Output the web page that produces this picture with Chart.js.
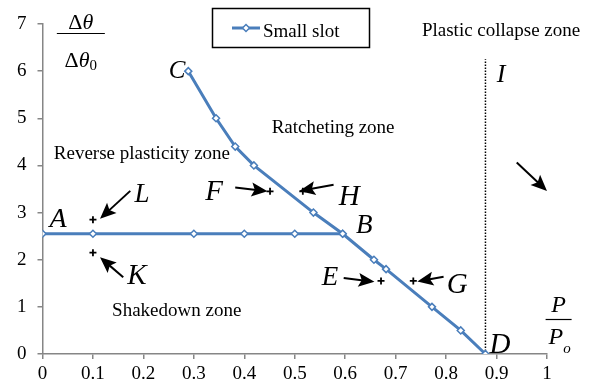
<!DOCTYPE html>
<html>
<head>
<meta charset="utf-8">
<script src="https://cdn.jsdelivr.net/npm/chart.js@4.4.1/dist/chart.umd.min.js"></script>
<style>
  html, body { margin: 0; background: #fff; }
  #wrap { width: 603px; height: 385px; }
</style>
</head>
<body>
<div id="wrap"><canvas id="chart" width="603" height="385"></canvas></div>
<script>
// Shakedown boundary (A -> B) and ratcheting / collapse boundary (C -> D)
const flatX = [0, 0.1, 0.3, 0.4, 0.5, 0.595];
const flatY = [2.55, 2.55, 2.55, 2.55, 2.55, 2.55];
const slotX = [0.289, 0.344, 0.382, 0.419, 0.537, 0.595, 0.657, 0.681, 0.772, 0.829, 0.878];
const slotY = [6.0, 5.0, 4.4, 4.0, 3.0, 2.55, 2.0, 1.8, 1.0, 0.5, 0];

// Limit load line (dotted)
const limitX = [0.878, 0.878];
const limitY = [0, 6.25];

// Load cases K, L, F, H, E, G
const caseX = [0.1, 0.1, 0.451, 0.516, 0.671, 0.735];
const caseY = [2.85, 2.15, 3.45, 3.45, 1.55, 1.55];

// Point letters
const letters = ["A", "B", "C", "D", "E", "F", "G", "H", "I", "K", "L"];
const letterX = [0.031, 0.638, 0.267, 0.907, 0.570, 0.340, 0.822, 0.608, 0.909, 0.187, 0.197];
const letterY = [2.69, 2.57, 5.85, 0.03, 1.47, 3.27, 1.29, 3.16, 5.77, 1.49, 3.22];

// Zone names
const zones = ["Plastic collapse zone", "Ratcheting zone", "Reverse plasticity zone", "Shakedown zone"];
const zoneX = [0.909, 0.576, 0.197, 0.266];
const zoneY = [6.74, 4.68, 4.13, 0.80];

// Arrows (tail -> tip)
const arrowFromX = [0.174, 0.160, 0.382, 0.577, 0.597, 0.795, 0.940];
const arrowFromY = [3.46, 1.63, 3.53, 3.59, 1.61, 1.64, 4.06];
const arrowToX = [0.114, 0.114, 0.446, 0.509, 0.658, 0.743, 1.000];
const arrowToY = [2.87, 2.05, 3.45, 3.46, 1.53, 1.54, 3.46];

const blue = "#4a7ebb";
const serif = '"Liberation Serif", "Times New Roman", serif';
const letterSize = { A: 28, B: 27, C: 25, D: 29, E: 27, F: 29, G: 29, H: 29, I: 26, K: 29, L: 27 };

const toPts = (xs, ys) => xs.map((x, i) => ({ x: x, y: ys[i] }));

function drawArrow(ctx, x1, y1, x2, y2) {
  const a = Math.atan2(y2 - y1, x2 - x1);
  const c = Math.cos(a), s = Math.sin(a);
  const len = 16, hw = 7;
  ctx.beginPath();
  ctx.moveTo(x1, y1);
  ctx.lineTo(x2 - len * 0.7 * c, y2 - len * 0.7 * s);
  ctx.stroke();
  ctx.beginPath();
  ctx.moveTo(x2, y2);
  ctx.lineTo(x2 - len * c + hw * s, y2 - len * s - hw * c);
  ctx.lineTo(x2 - len * 0.8 * c, y2 - len * 0.8 * s);
  ctx.lineTo(x2 - len * c - hw * s, y2 - len * s + hw * c);
  ctx.closePath();
  ctx.fill();
}

// Writes a run of [text, font, dy] pieces centred on cx
function drawRun(ctx, parts, cx, baseline) {
  let w = 0;
  parts.forEach(p => { ctx.font = p[1]; w += ctx.measureText(p[0]).width; });
  let x = cx - w / 2;
  parts.forEach(p => {
    ctx.font = p[1];
    ctx.fillText(p[0], x, baseline + (p[2] || 0));
    x += ctx.measureText(p[0]).width;
  });
}

const overlay = {
  id: "overlay",
  afterDatasetsDraw(chart) {
    const ctx = chart.ctx;
    const sx = chart.scales.x, sy = chart.scales.y;
    ctx.save();
    ctx.fillStyle = "#000";
    ctx.strokeStyle = "#000";
    ctx.textBaseline = "alphabetic";
    ctx.textAlign = "left";

    // zone names
    zones.forEach((t, i) => {
      ctx.font = "19px " + serif;
      const w = ctx.measureText(t).width;
      ctx.fillText(t, sx.getPixelForValue(zoneX[i]) - w / 2, sy.getPixelForValue(zoneY[i]));
    });

    // point letters
    letters.forEach((t, i) => {
      ctx.font = "italic " + letterSize[t] + "px " + serif;
      const w = ctx.measureText(t).width;
      ctx.fillText(t, sx.getPixelForValue(letterX[i]) - w / 2, sy.getPixelForValue(letterY[i]));
    });

    // arrows
    ctx.lineWidth = 2;
    arrowFromX.forEach((x, i) => {
      drawArrow(ctx,
        sx.getPixelForValue(x), sy.getPixelForValue(arrowFromY[i]),
        sx.getPixelForValue(arrowToX[i]), sy.getPixelForValue(arrowToY[i]));
    });

    // y axis title: Δθ / Δθ0
    const yx = sx.getPixelForValue(0.076), yl = Math.round(sy.getPixelForValue(6.81)) + 0.5;
    const up = "22px " + serif, it = "italic 22px " + serif;
    drawRun(ctx, [["Δ", up], ["θ", it]], yx, yl - 5);
    drawRun(ctx, [["Δ", up], ["θ", it], ["0", "15px " + serif, 3]], yx, yl + 33);
    ctx.lineWidth = 1.2;
    ctx.beginPath();
    ctx.moveTo(yx - 24, yl);
    ctx.lineTo(yx + 24, yl);
    ctx.stroke();

    // x axis title: P / Po
    const xx = sx.getPixelForValue(1.023), xl = Math.round(sy.getPixelForValue(0.75)) + 0.5;
    const pf = "italic 24px " + serif;
    drawRun(ctx, [["P", pf]], xx, xl - 8);
    drawRun(ctx, [["P", pf], ["o", "italic 15px " + serif, 9]], xx + 1, xl + 24);
    ctx.beginPath();
    ctx.moveTo(xx - 13, xl);
    ctx.lineTo(xx + 13, xl);
    ctx.stroke();

    // legend box
    ctx.lineWidth = 1.5;
    ctx.strokeRect(212.5, 8.5, 157, 39);
    ctx.strokeStyle = blue;
    ctx.lineWidth = 3;
    ctx.beginPath();
    ctx.moveTo(232, 28);
    ctx.lineTo(260, 28);
    ctx.stroke();
    ctx.fillStyle = "#fff";
    ctx.lineWidth = 1.5;
    ctx.beginPath();
    ctx.moveTo(246, 24.5);
    ctx.lineTo(249.5, 28);
    ctx.lineTo(246, 31.5);
    ctx.lineTo(242.5, 28);
    ctx.closePath();
    ctx.fill();
    ctx.stroke();
    ctx.fillStyle = "#000";
    ctx.font = "19px " + serif;
    ctx.fillText("Small slot", 263, 37);
    ctx.restore();
  }
};

const lineStyle = {
  showLine: true,
  borderColor: blue,
  borderWidth: 3,
  pointStyle: "rectRot",
  pointRadius: 3.5,
  pointBackgroundColor: "#fff",
  pointBorderColor: blue,
  pointBorderWidth: 1.5,
  tension: 0
};

new Chart(document.getElementById("chart"), {
  type: "scatter",
  data: {
    datasets: [
      Object.assign({ label: "Small slot", data: toPts(slotX, slotY) }, lineStyle),
      Object.assign({ label: "Shakedown limit", data: toPts(flatX, flatY) }, lineStyle),
      {
        label: "Limit load",
        data: toPts(limitX, limitY),
        showLine: true,
        borderColor: "#000",
        borderWidth: 1.5,
        borderDash: [1.5, 1.5],
        pointRadius: 0
      },
      {
        label: "Load cases",
        data: toPts(caseX, caseY),
        pointStyle: "cross",
        pointRadius: 3.5,
        borderColor: "#000",
        borderWidth: 1.8
      }
    ]
  },
  options: {
    responsive: false,
    animation: false,
    layout: { padding: { top: 24, right: 56, left: 0, bottom: 0 } },
    plugins: { legend: { display: false }, tooltip: { enabled: false } },
    scales: {
      x: {
        type: "linear",
        min: 0,
        max: 1,
        afterFit: s => { s.height = 31; },
        grid: { drawOnChartArea: false, tickLength: 5, color: "#868686", lineWidth: 1.5 },
        border: { color: "#868686", width: 1.5 },
        ticks: {
          stepSize: 0.1,
          padding: 4,
          color: "#000",
          font: { family: serif, size: 19 },
          callback: v => String(Math.round(v * 10) / 10)
        }
      },
      y: {
        min: 0,
        max: 7,
        afterFit: s => { s.width = 42.5; },
        grid: { drawOnChartArea: false, tickLength: 5, color: "#868686", lineWidth: 1.5 },
        border: { color: "#868686", width: 1.5 },
        ticks: {
          stepSize: 1,
          padding: 11,
          color: "#000",
          font: { family: serif, size: 19 }
        }
      }
    }
  },
  plugins: [overlay]
});
</script>
</body>
</html>
